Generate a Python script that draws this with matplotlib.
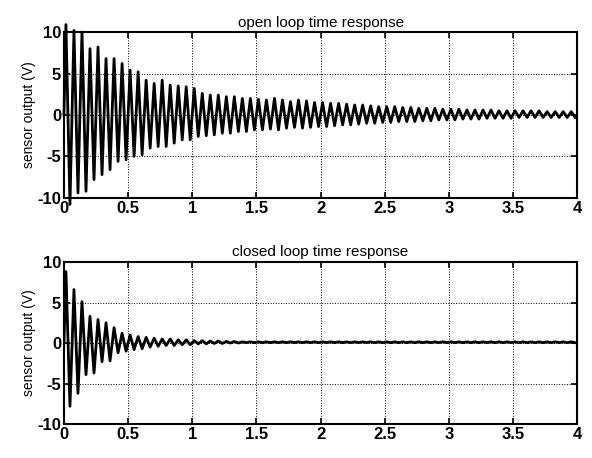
import numpy as np
import matplotlib
matplotlib.use("Agg")
import matplotlib.pyplot as plt

# oscillation period (about 16 cycles per second)
period = 0.0625

# open loop: positive and negative peak of each cycle (V)
open_upper = [10.9, 10.2, 10.0, 8.0, 8.2, 6.8, 6.8, 6.2, 5.4, 5.2, 4.2, 3.8, 4.2, 3.6, 3.5, 3.4,
              3.2, 2.6, 2.4, 2.4, 2.2, 2.2, 2.0, 2.0,
              1.9, 1.8, 2.0, 1.8, 1.6, 1.8, 1.7, 1.5,
              1.5, 1.4, 1.4, 1.3, 1.2, 1.2, 1.1, 1.0,
              1.0, 1.0, 0.9, 0.9, 0.8, 0.8, 0.8, 0.7,
              0.7, 0.7, 0.6, 0.6, 0.6, 0.6, 0.5, 0.5,
              0.5, 0.5, 0.5, 0.5, 0.4, 0.4, 0.4, 0.4]
open_lower = [-10.8, -9.4, -9.2, -7.8, -7.2, -6.6, -5.6, -5.4, -5.0, -4.8, -4.0, -3.8, -3.8, -3.4, -3.0, -3.0,
              -2.6, -2.5, -2.4, -2.2, -2.2, -2.0, -2.0, -1.8,
              -1.8, -1.7, -1.8, -1.6, -1.5, -1.6, -1.5, -1.4,
              -1.4, -1.3, -1.2, -1.2, -1.1, -1.0, -1.0, -0.9,
              -0.9, -0.8, -0.8, -0.8, -0.7, -0.7, -0.6, -0.6,
              -0.6, -0.5, -0.5, -0.5, -0.4, -0.4, -0.4, -0.4,
              -0.3, -0.3, -0.3, -0.3, -0.3, -0.3, -0.3, -0.3]

# closed loop: positive and negative peak of each cycle (V)
closed_upper = [8.8, 6.6, 5.1, 3.3, 2.9, 2.5, 1.9, 1.2, 1.0, 0.8, 0.7, 0.6, 0.5, 0.5, 0.4, 0.4,
                0.3, 0.3, 0.25, 0.25, 0.2, 0.2, 0.15, 0.15,
                0.15, 0.15, 0.15, 0.15, 0.15, 0.15, 0.15, 0.15,
                0.15, 0.15, 0.15, 0.15, 0.15, 0.15, 0.15, 0.15,
                0.15, 0.15, 0.15, 0.15, 0.15, 0.15, 0.15, 0.15,
                0.15, 0.15, 0.15, 0.15, 0.15, 0.15, 0.15, 0.15,
                0.15, 0.15, 0.15, 0.15, 0.15, 0.15, 0.15, 0.15]
closed_lower = [-7.8, -6.2, -3.9, -3.7, -2.3, -2.2, -1.2, -1.0, -0.8, -0.7, -0.5, -0.4, -0.3, -0.3, -0.2, -0.2,
                -0.1, -0.1, -0.05, -0.05, 0.0, 0.0, 0.05, 0.05,
                0.05, 0.05, 0.05, 0.05, 0.05, 0.05, 0.05, 0.05,
                0.05, 0.05, 0.05, 0.05, 0.05, 0.05, 0.05, 0.05,
                0.05, 0.05, 0.05, 0.05, 0.05, 0.05, 0.05, 0.05,
                0.05, 0.05, 0.05, 0.05, 0.05, 0.05, 0.05, 0.05,
                0.05, 0.05, 0.05, 0.05, 0.05, 0.05, 0.05, 0.05]

titles = ["open loop time response", "closed loop time response"]
xticks = [0, 0.5, 1, 1.5, 2, 2.5, 3, 3.5, 4]
xticklabels = ["0", "0.5", "1", "1.5", "2", "2.5", "3", "3.5", "4"]
yticks = [-10, -5, 0, 5, 10]


def zigzag(upper, lower):
    n = len(upper)
    t_up = (np.arange(n) + 0.25) * period
    t_lo = (np.arange(n) + 0.75) * period
    t = np.empty(2 * n)
    y = np.empty(2 * n)
    t[0::2], t[1::2] = t_up, t_lo
    y[0::2], y[1::2] = upper, lower
    return np.r_[0, t], np.r_[0, y]


plt.rcParams["font.family"] = ["Liberation Sans", "DejaVu Sans"]
plt.rcParams["axes.unicode_minus"] = False

fig = plt.figure(figsize=(5.92, 4.58), dpi=100)
ax1 = fig.add_axes([0.108, 0.568, 0.867, 0.362])
ax2 = fig.add_axes([0.108, 0.074, 0.867, 0.354])

series = [zigzag(open_upper, open_lower), zigzag(closed_upper, closed_lower)]

for ax, (t, y), title in zip([ax1, ax2], series, titles):
    ax.plot(t, y, color="black", lw=2.0, clip_on=(ax is ax2))
    ax.set_xlim(0, 4)
    ax.set_ylim(-10, 10)
    ax.set_xticks(xticks)
    ax.set_xticklabels(xticklabels)
    ax.set_yticks(yticks)
    ax.grid(True, color="black", linestyle=":", linewidth=0.7)
    ax.tick_params(direction="in", length=4, width=1.2, labelsize=12, pad=2,
                   top=True, right=True)
    for lab in ax.get_xticklabels() + ax.get_yticklabels():
        lab.set_fontweight("bold")
    for sp in ax.spines.values():
        sp.set_linewidth(1.5)
    ax.set_title(title, fontsize=11, pad=4)
    ax.set_ylabel("sensor output (V)", fontsize=10, labelpad=1)

fig.savefig("out.png", dpi=100, facecolor="white")
